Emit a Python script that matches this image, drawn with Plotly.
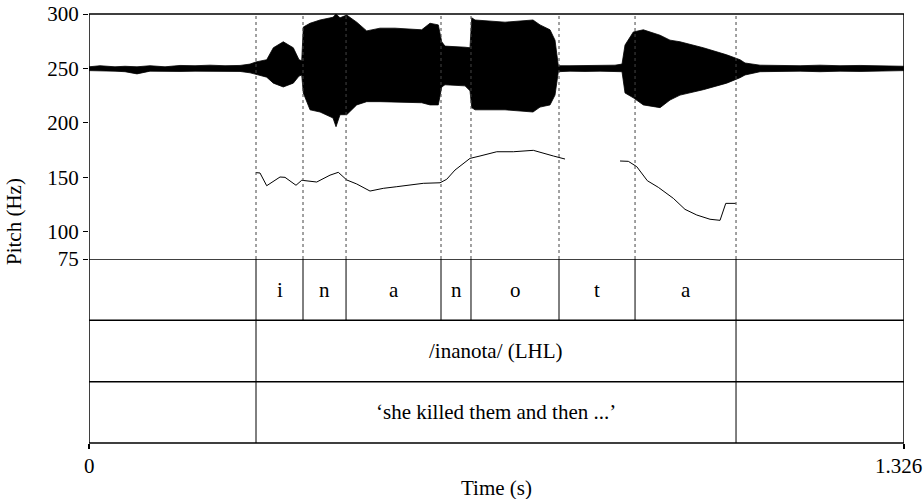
import plotly.graph_objects as go

# ---------------- data ----------------
T_END = 1.326

# waveform envelope (time in s, amplitude in normalized units, max ~ 1)
wave_t = [0.0, 0.0179, 0.0423, 0.0586, 0.0781, 0.0993, 0.1237, 0.1481, 0.1725, 0.1969,
          0.2213, 0.2457, 0.2620, 0.2717, 0.2891, 0.2999, 0.3161, 0.3324, 0.3417, 0.3461,
          0.3487, 0.3596, 0.3759, 0.3970, 0.4019, 0.4084, 0.4193, 0.4356, 0.4518, 0.4735,
          0.4979, 0.5413, 0.5548, 0.5683, 0.5739, 0.5792, 0.6118, 0.6199, 0.6227, 0.6281,
          0.6769, 0.7224, 0.7338, 0.7501, 0.7582, 0.7636, 0.7826, 0.8070, 0.8314, 0.8558,
          0.8672, 0.8721, 0.8856, 0.9019, 0.9291, 0.9453, 0.9616, 0.9995, 1.0376, 1.0592,
          1.0674, 1.0918, 1.1243, 1.1569, 1.1894, 1.2219, 1.2545, 1.2870, 1.326]
wave_max = [0.03, 0.05, 0.03, 0.04, 0.03, 0.05, 0.03, 0.055, 0.05, 0.06,
            0.05, 0.055, 0.08, 0.12, 0.16, 0.38, 0.49, 0.38, 0.16, 0.14,
            0.76, 0.83, 0.89, 0.94, 1.00, 0.93, 0.98, 0.85, 0.69, 0.74,
            0.74, 0.71, 0.83, 0.80, 0.49, 0.41, 0.39, 0.38, 0.93, 0.89,
            0.85, 0.89, 0.80, 0.71, 0.52, 0.05, 0.05, 0.055, 0.05, 0.06,
            0.08, 0.43, 0.67, 0.71, 0.61, 0.52, 0.49, 0.38, 0.25, 0.16,
            0.10, 0.06, 0.055, 0.05, 0.06, 0.05, 0.055, 0.05, 0.04]
wave_min = [-0.04, -0.05, -0.05, -0.06, -0.10, -0.05, -0.05, -0.055, -0.05, -0.055,
            -0.05, -0.055, -0.08, -0.10, -0.16, -0.27, -0.34, -0.27, -0.14, -0.12,
            -0.45, -0.76, -0.80, -0.91, -1.07, -0.85, -0.85, -0.67, -0.61, -0.61,
            -0.61, -0.63, -0.67, -0.67, -0.34, -0.30, -0.32, -0.41, -0.72, -0.76,
            -0.76, -0.80, -0.71, -0.67, -0.49, -0.06, -0.05, -0.055, -0.05, -0.055,
            -0.06, -0.45, -0.54, -0.67, -0.72, -0.58, -0.49, -0.39, -0.27, -0.17,
            -0.12, -0.06, -0.055, -0.05, -0.06, -0.05, -0.055, -0.05, -0.04]

# pitch contour (s, Hz); None marks the unvoiced gap
pitch_t = [0.2717, 0.2782, 0.2891, 0.3108, 0.3189, 0.3368, 0.3461, 0.3705, 0.3921, 0.4056,
           0.4193, 0.4356, 0.4572, 0.4788, 0.5007, 0.5439, 0.5711, 0.5820, 0.5955, 0.6199,
           0.6362, 0.6634, 0.6904, 0.7229, 0.7555, 0.7745, None,
           0.8640, 0.8775, 0.8912, 0.9084, 0.9263, 0.9507, 0.9697, 0.9888, 1.0104, 1.0267,
           1.0360, 1.0522]
pitch_hz = [154.3, 154.0, 142.3, 150.3, 150.0, 142.7, 147.3, 145.7, 152.0, 154.6,
            147.6, 143.9, 137.4, 139.9, 141.4, 144.5, 145.0, 148.2, 156.7, 167.4,
            169.6, 173.5, 173.5, 174.8, 169.6, 166.8, None,
            165.0, 164.7, 159.8, 146.9, 140.8, 130.7, 120.6, 115.4, 111.5, 110.5,
            126.1, 126.1]

# segment tier
seg_bounds = [0.2717, 0.3482, 0.4182, 0.5727, 0.6215, 0.7647, 0.8884, 1.0527]
seg_labels = ["i", "n", "a", "n", "o", "t", "a"]
word_bounds = [0.2717, 1.0527]
word_label = "/inanota/ (LHL)"
gloss_label = "‘she killed them and then ...’"

y_ticks = [75, 100, 150, 200, 250, 300]
x_tick_labels = ["0", "1.326"]

# ---------------- layout constants ----------------
W, H = 923, 499
ML, MR, MT, MB = 89, 19, 14, 56
plot_h = H - MT - MB
plot_w = W - ML - MR
pitch_dom0 = (443 - 259) / plot_h
FONT = "Liberation Serif, Times New Roman, serif"
FS = 21
WAVE_CENTER, WAVE_SCALE = 250, 50

fig = go.Figure()

# waveform as filled envelope
wx = wave_t + wave_t[::-1]
wy = [WAVE_CENTER + WAVE_SCALE * v for v in wave_max] + \
     [WAVE_CENTER + WAVE_SCALE * v for v in wave_min[::-1]]
fig.add_trace(go.Scatter(x=wx, y=wy, mode="lines", fill="toself",
                         fillcolor="black", line=dict(color="black", width=0.8),
                         hoverinfo="skip", showlegend=False, xaxis="x", yaxis="y"))

# pitch contour
fig.add_trace(go.Scatter(x=pitch_t, y=pitch_hz, mode="lines",
                         line=dict(color="black", width=1),
                         connectgaps=False, showlegend=False, xaxis="x", yaxis="y"))

shapes = []
# dotted boundary lines in the upper panel
for i, b in enumerate(seg_bounds):
    shapes.append(dict(type="line", xref="x", yref="y", x0=b, x1=b,
                       y0=75, y1=305 if i == 0 else 300,
                       line=dict(color="#444", width=1, dash="dot")))
# tier boundary lines
for b in seg_bounds:
    shapes.append(dict(type="line", xref="x", yref="y2", x0=b, x1=b, y0=2, y1=3,
                       line=dict(color="black", width=1)))
for b in word_bounds:
    shapes.append(dict(type="line", xref="x", yref="y2", x0=b, x1=b, y0=0, y1=2,
                       line=dict(color="black", width=1)))
# horizontal tier separators
for yv in [1, 2, 3]:
    shapes.append(dict(type="line", xref="x", yref="y2", x0=0, x1=T_END, y0=yv, y1=yv,
                       line=dict(color="black", width=1.5)))
# outer frame
shapes.append(dict(type="rect", xref="x", yref="paper", x0=0, x1=T_END, y0=0, y1=1,
                   line=dict(color="black", width=1.5), fillcolor="rgba(0,0,0,0)"))

annotations = []
for k, lab in enumerate(seg_labels):
    annotations.append(dict(x=(seg_bounds[k] + seg_bounds[k + 1]) / 2, y=2.5,
                            xref="x", yref="y2", text=lab, showarrow=False,
                            font=dict(family=FONT, size=FS, color="black")))
annotations.append(dict(x=(word_bounds[0] + word_bounds[1]) / 2, y=1.5, xref="x", yref="y2",
                        text=word_label, showarrow=False,
                        font=dict(family=FONT, size=FS, color="black")))
annotations.append(dict(x=(word_bounds[0] + word_bounds[1]) / 2, y=0.5, xref="x", yref="y2",
                        text=gloss_label, showarrow=False,
                        font=dict(family=FONT, size=FS, color="black")))
# x tick labels
annotations.append(dict(x=0, y=-23 / plot_h, xref="x", yref="paper", text=x_tick_labels[0],
                        showarrow=False, yanchor="middle",
                        font=dict(family=FONT, size=FS, color="black")))
annotations.append(dict(x=T_END, y=-23 / plot_h, xref="x", yref="paper", text=x_tick_labels[1],
                        showarrow=False, yanchor="middle", xshift=-6,
                        font=dict(family=FONT, size=FS, color="black")))
# axis titles
annotations.append(dict(x=0.5, y=-45 / plot_h, xref="paper", yref="paper", text="Time (s)",
                        showarrow=False, yanchor="middle",
                        font=dict(family=FONT, size=FS, color="black")))
annotations.append(dict(x=(14 - ML) / plot_w, y=(443 - 222) / plot_h,
                        xref="paper", yref="paper", text="Pitch (Hz)", textangle=-90,
                        showarrow=False, xanchor="center", yanchor="middle",
                        font=dict(family=FONT, size=FS, color="black")))

fig.update_layout(
    template="none",
    width=W, height=H, autosize=False,
    margin=dict(l=ML, r=MR, t=MT, b=MB, pad=0, autoexpand=False),
    paper_bgcolor="white", plot_bgcolor="white",
    showlegend=False,
    xaxis=dict(domain=[0, 1], range=[0, T_END], anchor="y2", automargin=False,
               showgrid=False, zeroline=False, showline=False,
               tickvals=[0, T_END], ticks="outside", ticklen=5, tickwidth=1.5,
               tickcolor="black", showticklabels=False),
    yaxis=dict(domain=[pitch_dom0, 1], range=[75, 300], anchor="x", automargin=False,
               tickvals=y_ticks, ticktext=[str(v) for v in y_ticks],
               ticks="outside", ticklen=5, tickwidth=1, tickcolor="black",
               showgrid=False, zeroline=False, showline=False,
               tickfont=dict(family=FONT, size=FS, color="black")),
    yaxis2=dict(domain=[0, pitch_dom0], range=[0, 3], anchor="x", automargin=False,
                showgrid=False, zeroline=False, showline=False,
                showticklabels=False, ticks=""),
    shapes=shapes,
    annotations=annotations,
)

fig.write_html("out.html")
